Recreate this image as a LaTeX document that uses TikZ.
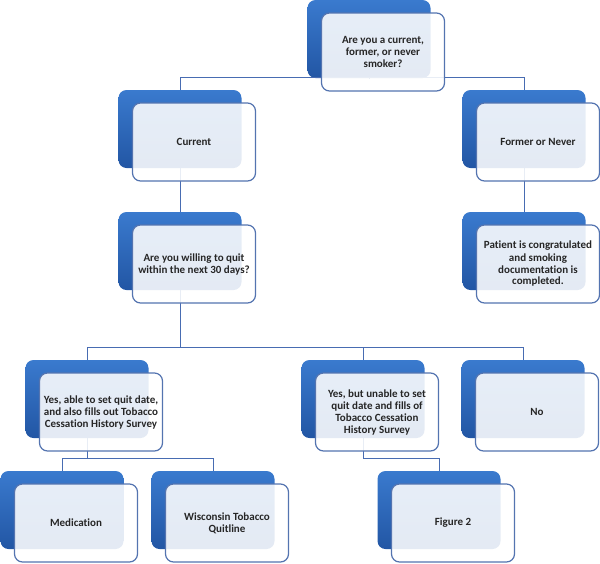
\documentclass[tikz,border=0pt]{standalone}
\usepackage{fontspec}
\setmainfont{Carlito}[Ligatures=NoCommon]
\usepackage{tikz}
\usetikzlibrary{positioning}

\definecolor{boxtop}{RGB}{58,122,206}
\definecolor{boxbot}{RGB}{34,86,164}
\definecolor{edgeblue}{RGB}{84,116,176}
\definecolor{lineblue}{RGB}{72,108,178}

\begin{document}
\begin{tikzpicture}[x=1pt,y=-1pt,
	back/.style={rounded corners=8pt, minimum width=123pt, minimum height=78pt, inner sep=0pt, top color=boxtop, bottom color=boxbot},
	front/.style={draw=edgeblue, line width=1.2pt, rounded corners=8pt, fill=white, fill opacity=0.88, text opacity=1, minimum width=123pt, minimum height=78pt, inner sep=0pt, align=center, text=black!85, font=\fontsize{11}{12}\selectfont\bfseries},
	conn/.style={draw=lineblue, line width=1pt}]
	\useasboundingbox (0,0) rectangle (600,563);
	% blue boxes
	\node [back] (topb) at (369,39) {};
	\node [back] (curb) at (180,129) {};
	\node [back] (formb) at (524,129) {};
	\node [back] (willb) at (180,251) {};
	\node [back] (patb) at (524,251) {};
	\node [back] (yesab) at (87,399) {};
	\node [back] (yesub) at (363,399) {};
	\node [back] (nob) at (523,399) {};
	\node [back] (medb) at (62,510) {};
	\node [back] (wisb) at (213,510) {};
	\node [back] (figb) at (439,510) {};
	% connectors
	\draw [conn] (topb.south) |- ([yshift=12pt]curb.north) -- (curb.north);
	\draw [conn] (topb.south) |- ([yshift=12pt]formb.north) -- (formb.north);
	\draw [conn] (curb.south) -- (willb.north);
	\draw [conn] (formb.south) -- (patb.north);
	\draw [conn] (willb.south) |- ([yshift=12pt]yesab.north) -- (yesab.north);
	\draw [conn] (willb.south) |- ([yshift=12pt]yesub.north) -- (yesub.north);
	\draw [conn] (willb.south) |- ([yshift=12pt]nob.north) -- (nob.north);
	\draw [conn] (yesab.south) |- ([yshift=12pt]medb.north) -- (medb.north);
	\draw [conn] (yesab.south) |- ([yshift=12pt]wisb.north) -- (wisb.north);
	\draw [conn] (yesub.south) |- ([yshift=12pt]figb.north) -- (figb.north);
	% text boxes
	\node [front] (top) at ([shift={(14pt,-13pt)}]topb) {Are you a current,\\former, or never\\smoker?};
	\node [front] (cur) at ([shift={(14pt,-13pt)}]curb) {Current};
	\node [front] (form) at ([shift={(14pt,-13pt)}]formb) {Former or Never};
	\node [front] (will) at ([shift={(14pt,-13pt)}]willb) {Are you willing to quit\\within the next 30 days?};
	\node [front] (pat) at ([shift={(14pt,-13pt)}]patb) {Patient is congratulated\\and smoking\\documentation is\\completed.};
	\node [front] (yesa) at ([shift={(14pt,-13pt)}]yesab) {Yes, able to set quit date,\\and also fills out Tobacco\\Cessation History Survey};
	\node [front] (yesu) at ([shift={(14pt,-13pt)}]yesub) {Yes, but unable to set\\quit date and fills of\\Tobacco Cessation\\History Survey};
	\node [front] (no) at ([shift={(14pt,-13pt)}]nob) {No};
	\node [front] (med) at ([shift={(14pt,-13pt)}]medb) {Medication};
	\node [front] (wis) at ([shift={(14pt,-13pt)}]wisb) {Wisconsin Tobacco\\Quitline};
	\node [front] (fig) at ([shift={(14pt,-13pt)}]figb) {Figure 2};
\end{tikzpicture}
\end{document}
